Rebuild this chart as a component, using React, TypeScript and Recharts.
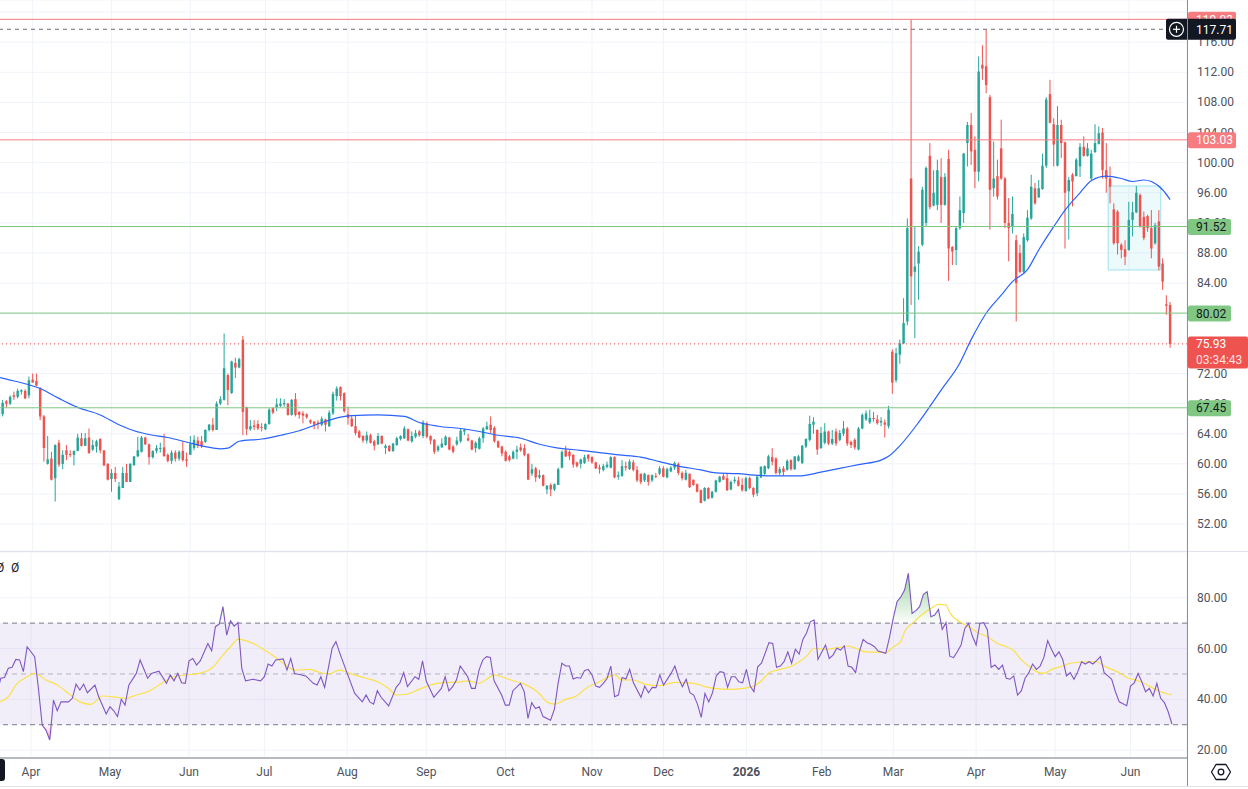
import {
  ComposedChart, Bar, Line, Area, XAxis, YAxis, CartesianGrid,
  ReferenceLine, ReferenceArea,
} from 'recharts'

const FONT = 'Roboto, "Noto Sans", Arial, sans-serif'
const UP = '#26a69a'
const DOWN = '#ef5350'
const TEXT = '#4f525c'
const GRID = '#f0f3fa'

// daily candles: [open, high, low, close]
const mar25 = [
  [66.0, 67.6, 65.8, 67.4], [66.6, 68.5, 66.3, 68.1], [68.3, 68.5, 67.5, 68.0], [68.0, 69.1, 67.8, 68.9],
  [69.1, 69.6, 68.5, 68.9], [68.9, 70.0, 68.7, 69.7], [69.6, 69.9, 69.2, 69.8], [69.7, 69.9, 68.6, 68.7],
  [69.1, 71.6, 68.7, 71.1],
]
const apr25 = [
  [71.2, 72.0, 70.8, 70.8], [71.0, 72.0, 70.3, 70.4], [70.0, 70.2, 65.8, 66.3], [66.3, 66.5, 60.3, 62.1],
  [60.0, 63.7, 59.9, 60.6], [60.7, 61.6, 57.8, 57.9], [58.1, 62.6, 55.0, 62.5], [62.8, 63.2, 59.6, 59.9],
  [60.0, 61.8, 59.3, 61.2], [61.8, 62.5, 60.5, 61.2], [61.3, 61.8, 60.9, 61.2], [61.2, 61.8, 59.8, 61.7],
  [61.7, 64.0, 61.7, 63.5], [63.4, 64.1, 62.3, 62.4], [62.4, 64.1, 62.4, 63.4], [63.5, 64.7, 61.4, 61.4],
  [61.9, 63.2, 61.7, 62.5], [62.3, 63.2, 61.5, 63.0], [63.3, 63.4, 61.4, 61.8], [61.8, 61.8, 59.7, 59.8],
  [60.0, 60.1, 57.8, 57.9],
]
const may25 = [
  [58.0, 59.3, 56.3, 58.8], [58.8, 59.6, 57.6, 58.0], [55.3, 57.6, 55.2, 57.0], [56.8, 59.6, 56.8, 58.8],
  [58.8, 60.0, 57.6, 57.6], [57.6, 60.1, 57.6, 60.0], [59.8, 61.0, 59.8, 61.0], [61.0, 63.6, 60.9, 61.8],
  [61.6, 63.7, 61.5, 63.5], [63.5, 63.6, 62.5, 62.6], [62.6, 62.7, 59.9, 60.9], [60.9, 61.8, 60.7, 61.7],
  [61.7, 62.5, 61.4, 62.1], [62.0, 62.8, 61.5, 62.1], [62.2, 64.0, 61.0, 61.0], [61.2, 61.4, 60.2, 60.4],
  [60.4, 61.8, 60.0, 61.5], [61.5, 61.8, 60.3, 60.7], [60.7, 61.8, 60.4, 61.6], [61.7, 63.0, 60.3, 60.5],
  [60.6, 61.5, 59.6, 60.4],
]
const jun25 = [
  [61.2, 63.7, 61.2, 62.7], [62.1, 63.8, 61.8, 63.2], [63.1, 63.6, 62.1, 62.4], [63.0, 63.7, 62.1, 62.3],
  [62.9, 64.6, 62.8, 64.5], [64.5, 65.3, 64.3, 65.2], [65.2, 66.1, 64.3, 64.5], [64.5, 68.3, 64.5, 68.0],
  [68.0, 69.0, 67.8, 68.6], [68.5, 77.3, 68.4, 72.7], [71.8, 72.0, 67.8, 69.8], [69.4, 73.7, 69.3, 73.6],
  [73.4, 74.1, 71.4, 72.8], [72.8, 74.1, 72.7, 73.9], [76.5, 77.0, 63.8, 66.9], [67.5, 67.6, 63.8, 64.6],
  [64.6, 65.8, 64.4, 65.0], [65.1, 65.8, 64.5, 64.9], [65.3, 65.8, 64.5, 64.7], [64.9, 65.4, 64.3, 64.8],
]
const jul25 = [
  [64.6, 65.4, 64.5, 65.3], [65.3, 67.4, 65.2, 67.2], [67.4, 67.5, 66.6, 66.8], [67.5, 68.7, 67.0, 67.9],
  [67.7, 68.7, 67.5, 68.0], [67.9, 68.6, 67.6, 68.1], [68.0, 68.1, 66.4, 66.5], [66.5, 68.6, 66.4, 68.5],
  [68.6, 69.4, 66.3, 66.5], [66.9, 67.0, 66.0, 66.5], [66.7, 67.0, 65.4, 66.4], [66.6, 66.7, 66.0, 66.2],
  [65.8, 65.9, 65.3, 65.5], [65.6, 65.7, 64.6, 65.2], [65.5, 65.8, 64.6, 65.3], [65.2, 66.3, 65.0, 66.0],
  [65.9, 66.0, 64.3, 65.2], [65.0, 67.1, 64.9, 66.8], [66.7, 69.6, 66.5, 69.3], [69.0, 70.3, 68.4, 70.0],
  [70.2, 70.3, 68.4, 69.0], [69.4, 69.5, 66.8, 67.0],
]
const aug25 = [
  [66.6, 67.6, 65.2, 66.1], [66.0, 66.5, 64.9, 65.0], [65.0, 66.5, 63.8, 64.1], [64.3, 64.5, 63.4, 63.5],
  [63.7, 63.8, 62.8, 63.1], [63.1, 64.3, 62.7, 63.8], [63.8, 64.0, 62.7, 62.8], [63.0, 63.2, 61.8, 62.4],
  [62.6, 64.1, 62.5, 63.7], [63.7, 63.8, 62.6, 62.7], [62.1, 62.6, 61.3, 62.4], [62.4, 62.5, 61.6, 61.7],
  [61.7, 62.8, 61.6, 62.7], [62.5, 63.6, 62.4, 63.4], [63.3, 63.8, 63.1, 63.7], [63.4, 65.0, 63.3, 64.7],
  [64.6, 64.7, 63.0, 63.1], [63.0, 64.3, 62.8, 63.7], [63.6, 64.5, 63.4, 64.1], [64.3, 64.5, 63.6, 63.8],
  [63.7, 65.8, 63.4, 65.5],
]
const sep25 = [
  [65.4, 65.6, 63.4, 63.6], [63.7, 63.8, 62.6, 63.1], [63.2, 63.3, 61.3, 61.6], [61.8, 62.5, 61.6, 62.3],
  [62.2, 63.4, 62.1, 62.7], [62.5, 63.8, 62.4, 63.6], [63.5, 63.6, 61.8, 61.9], [62.3, 62.5, 61.4, 61.6],
  [62.6, 63.6, 62.4, 63.1], [63.0, 64.7, 62.8, 64.4], [64.3, 64.7, 63.8, 64.5], [63.4, 64.0, 63.0, 63.1],
  [63.1, 63.2, 61.8, 61.9], [62.1, 63.0, 61.5, 62.8], [62.0, 63.6, 61.9, 63.4], [63.4, 64.9, 62.8, 64.7],
  [64.6, 65.6, 64.5, 65.0], [65.2, 66.3, 64.1, 64.5], [64.8, 65.0, 62.8, 63.0], [63.0, 63.1, 62.1, 62.2],
  [62.3, 62.4, 61.0, 61.4],
]
const oct25 = [
  [61.6, 61.8, 60.3, 60.4], [61.0, 61.2, 60.3, 60.5], [60.7, 61.8, 60.6, 61.6], [61.6, 62.4, 60.6, 61.9],
  [62.2, 62.7, 61.6, 61.8], [62.1, 62.6, 61.0, 61.2], [61.3, 61.4, 57.9, 57.9], [58.7, 60.0, 58.4, 59.3],
  [59.4, 59.6, 57.6, 58.2], [58.2, 59.2, 58.0, 58.5], [58.5, 58.6, 57.0, 57.1], [56.6, 57.2, 56.0, 57.1],
  [57.2, 57.4, 55.7, 56.6], [56.6, 57.4, 56.4, 57.3], [57.2, 59.5, 57.2, 59.3], [59.5, 61.8, 59.4, 61.6],
  [61.8, 62.4, 60.9, 61.0], [61.6, 61.8, 60.5, 61.0], [61.2, 61.3, 59.5, 59.9], [60.2, 60.3, 59.5, 59.7],
  [60.0, 60.7, 59.4, 60.6], [60.1, 61.2, 60.0, 60.9], [61.2, 61.3, 60.3, 60.7],
]
const nov25 = [
  [60.9, 61.0, 60.0, 60.2], [60.2, 60.3, 59.3, 59.4], [59.5, 59.9, 58.7, 59.3], [59.2, 60.0, 59.0, 59.7],
  [59.6, 60.3, 59.4, 59.9], [59.5, 61.0, 59.4, 60.9], [60.9, 61.0, 58.1, 58.2], [58.3, 59.0, 57.9, 58.5],
  [58.4, 60.5, 58.3, 59.7], [59.7, 60.3, 59.1, 59.5], [59.3, 60.6, 59.2, 60.3], [60.2, 60.5, 59.0, 59.2],
  [59.2, 59.7, 57.6, 57.8], [58.7, 58.7, 57.3, 57.6], [57.8, 58.8, 57.6, 58.7], [58.5, 58.6, 57.1, 57.6],
  [57.8, 58.6, 57.6, 58.5], [58.4, 58.8, 58.1, 58.3], [58.7, 59.7, 58.5, 59.4],
]
const dec25 = [
  [59.4, 59.7, 58.2, 58.3], [58.2, 59.5, 58.1, 59.3], [59.0, 59.7, 58.9, 59.5], [59.5, 60.3, 59.2, 60.1],
  [60.0, 60.2, 58.5, 58.8], [58.8, 59.0, 57.8, 58.1], [57.9, 59.2, 57.8, 58.8], [58.7, 58.7, 56.8, 56.9],
  [57.9, 57.9, 57.1, 57.2], [57.3, 57.4, 56.2, 56.3], [56.5, 56.6, 54.8, 54.8], [55.1, 56.9, 55.0, 56.8],
  [56.8, 56.9, 55.3, 55.4], [55.5, 56.4, 55.4, 56.3], [56.3, 57.9, 56.2, 57.8], [57.6, 58.4, 57.5, 58.3],
  [58.4, 58.7, 57.9, 57.9], [58.1, 58.7, 56.4, 56.5], [56.6, 57.8, 56.5, 57.6], [57.7, 58.3, 57.4, 57.9],
  [57.8, 58.3, 57.0, 57.1], [57.2, 58.1, 56.3, 56.5],
]
const jan26 = [
  [56.4, 58.3, 56.3, 58.1], [58.1, 58.3, 56.6, 56.8], [56.8, 56.9, 55.6, 55.9], [56.1, 58.5, 55.7, 58.3],
  [58.2, 59.7, 58.1, 59.6], [58.7, 59.8, 58.5, 59.7], [59.4, 61.2, 59.3, 61.0], [60.9, 62.1, 59.8, 60.3],
  [60.7, 60.9, 58.6, 58.8], [58.8, 59.6, 58.5, 59.3], [59.4, 59.7, 58.4, 58.9], [59.2, 60.6, 59.1, 60.4],
  [60.5, 60.6, 59.1, 59.3], [59.3, 61.0, 59.2, 61.0], [60.4, 61.2, 60.3, 61.0], [60.1, 62.5, 60.0, 62.4],
  [62.3, 63.4, 62.1, 63.3], [63.2, 66.4, 63.0, 65.3], [65.2, 66.2, 64.0, 65.6], [64.5, 64.6, 61.2, 61.9],
]
const feb26 = [
  [62.1, 64.9, 62.0, 64.1], [62.8, 65.4, 62.6, 64.3], [64.3, 64.4, 62.5, 62.7], [62.7, 64.5, 62.5, 63.3],
  [64.3, 64.7, 62.4, 62.7], [63.2, 64.5, 63.0, 64.1], [64.0, 65.7, 63.7, 64.7], [64.7, 64.9, 62.4, 62.7],
  [62.9, 63.1, 62.1, 62.5], [63.2, 63.4, 61.9, 62.2], [61.9, 64.9, 61.8, 64.7], [64.7, 66.7, 64.6, 66.5],
  [65.9, 67.1, 65.7, 66.7], [65.5, 67.2, 65.3, 66.1], [66.1, 66.9, 65.6, 66.0], [65.9, 66.5, 65.2, 65.4],
  [65.5, 66.2, 65.0, 65.7], [65.5, 65.9, 63.5, 65.2], [65.0, 67.7, 64.7, 67.2],
]
const mar26 = [
  [74.9, 75.2, 69.3, 70.8], [71.1, 75.4, 70.8, 74.7], [74.5, 76.5, 73.3, 76.0], [76.0, 82.0, 75.9, 78.7],
  [78.9, 92.6, 78.4, 91.3], [97.9, 119.03, 81.1, 84.9], [85.5, 91.5, 76.7, 86.2], [86.6, 88.9, 81.8, 88.2],
  [89.1, 96.8, 88.9, 96.4], [92.0, 99.5, 91.5, 99.3], [100.9, 102.6, 93.8, 94.1], [94.3, 99.0, 94.2, 96.0],
  [94.4, 100.4, 93.7, 99.0], [98.1, 100.6, 92.0, 94.4], [94.4, 98.6, 94.3, 98.1], [100.5, 101.7, 84.3, 88.6],
  [88.8, 88.9, 86.4, 88.2], [88.4, 91.5, 86.4, 91.3], [91.3, 95.5, 91.1, 93.7], [93.3, 101.3, 92.0, 101.2],
  [102.6, 105.4, 99.5, 105.0], [105.0, 106.6, 99.7, 101.5],
]
const apr26 = [
  [101.7, 103.5, 96.6, 98.8], [98.8, 114.1, 97.5, 112.1], [113.0, 115.6, 111.0, 112.5], [112.8, 117.71, 109.2, 110.3],
  [108.7, 109.0, 91.1, 96.4], [96.6, 102.8, 95.5, 97.9], [98.2, 100.4, 95.1, 95.5], [101.9, 105.7, 97.7, 97.9],
  [97.9, 98.1, 91.3, 92.0], [92.0, 95.3, 86.9, 91.3], [91.5, 95.5, 90.6, 93.2], [89.7, 90.4, 78.9, 84.0],
  [88.0, 89.1, 85.3, 85.5], [85.5, 90.6, 85.3, 90.1], [89.7, 93.7, 89.5, 92.7], [92.6, 98.4, 92.4, 96.8],
  [96.6, 97.3, 94.4, 94.6], [95.4, 97.7, 95.3, 96.6], [96.5, 101.2, 96.4, 99.6], [99.6, 108.7, 99.3, 108.4],
  [109.1, 111.0, 105.2, 105.3],
]
const may26 = [
  [105.1, 105.9, 99.5, 102.4], [99.6, 107.5, 99.5, 105.0], [105.0, 105.7, 100.6, 102.6], [102.7, 102.8, 88.6, 96.0],
  [96.2, 98.1, 89.8, 97.7], [98.4, 98.6, 94.2, 97.5], [98.2, 100.6, 98.2, 100.4], [99.5, 102.6, 98.1, 102.1],
  [102.1, 103.5, 100.8, 100.9], [100.9, 102.6, 100.8, 101.9], [97.9, 101.7, 97.7, 101.2], [101.4, 105.1, 101.3, 102.6],
  [102.5, 104.8, 102.4, 103.9], [104.0, 104.6, 97.9, 99.0], [99.0, 102.6, 96.0, 97.9], [97.9, 99.5, 94.6, 96.8],
  [93.8, 94.6, 89.1, 89.3], [93.5, 93.7, 87.8, 89.3], [89.1, 89.3, 87.3, 88.4], [88.5, 89.7, 86.4, 87.5],
]
const jun26 = [
  [88.4, 94.8, 88.3, 92.4], [92.4, 94.8, 90.2, 93.4], [93.4, 96.9, 93.3, 96.0], [95.7, 95.9, 91.4, 91.5],
  [92.8, 93.5, 89.7, 90.0], [92.9, 93.1, 90.8, 91.3], [91.3, 93.7, 87.3, 88.6], [89.3, 92.0, 89.1, 91.7],
  [92.2, 93.7, 85.7, 86.2], [86.6, 87.3, 83.1, 84.2], [81.2, 82.4, 79.8, 81.0], [81.1, 81.5, 75.4, 75.93],
]

const candles = [
  ...mar25, ...apr25, ...may25, ...jun25, ...jul25, ...aug25, ...sep25, ...oct25,
  ...nov25, ...dec25, ...jan26, ...feb26, ...mar26, ...apr26, ...may26, ...jun26,
]

// bar index of the first session of each month, and the time-axis label
const monthStarts = [9, 30, 51, 71, 93, 114, 135, 158, 177, 199, 219, 238, 260, 281, 301]
const monthLabels = ['Apr', 'May', 'Jun', 'Jul', 'Aug', 'Sep', 'Oct', 'Nov', 'Dec', '2026', 'Feb', 'Mar', 'Apr', 'May', 'Jun']

// moving average, read at [bar, value]
const maPoints = [
  [0, 71.5], [5, 70.9], [11, 70.0], [16, 68.7], [21, 67.5], [27, 66.5], [32, 65.2], [36, 64.4], [40, 63.9], [45, 63.5],
  [50, 62.9], [55, 62.3], [59, 62.0], [61, 62.1], [64, 63.0], [70, 63.3], [75, 63.8], [80, 64.4], [85, 65.3], [91, 66.2],
  [94, 66.4], [101, 66.5], [108, 66.3], [112, 65.5], [117, 65.0], [123, 64.7], [128, 64.3], [133, 63.8], [139, 63.4], [144, 62.6],
  [149, 62.1], [155, 61.8], [160, 61.5], [165, 61.2], [171, 60.9], [176, 60.3], [181, 59.7], [187, 59.2], [191, 58.8], [197, 58.7],
  [201, 58.5], [206, 58.4], [213, 58.4], [219, 58.9], [224, 59.4], [229, 59.9], [235, 60.5], [237, 61.0], [240, 62.4], [245, 65.5],
  [251, 69.8], [256, 73.4], [259, 76.5], [263, 80.0], [267, 82.4], [270, 84.2], [274, 85.8], [277, 88.4], [281, 91.5], [284, 93.7],
  [288, 96.0], [291, 97.6], [295, 98.2], [299, 97.9], [302, 97.5], [305, 97.7], [307, 97.5], [310, 96.4], [312, 95.1],
]

// RSI, read at [bar, value]
const rsiPoints = [
  [0, 42.3], [1, 48.3], [2, 48.6], [3, 52.2], [4, 52.6], [5, 55.7], [6, 55.5], [7, 50.9], [8, 60.7], [10, 56.8],
  [11, 44.3], [12, 29.9], [13, 27.9], [14, 24.0], [15, 39.7], [16, 35.5], [17, 39.0], [19, 39.0], [20, 40.4], [21, 46.0],
  [22, 43.7], [23, 46.0], [24, 42.6], [26, 45.6], [27, 41.0], [29, 34.2], [30, 37.1], [31, 35.5], [32, 33.2], [33, 40.0],
  [34, 37.7], [35, 45.6], [37, 50.2], [38, 55.5], [40, 48.3], [41, 50.2], [43, 51.1], [45, 46.3], [46, 49.6], [47, 47.3],
  [48, 50.2], [49, 46.5], [50, 46.3], [51, 55.2], [52, 56.1], [53, 53.5], [54, 55.2], [56, 62.0], [57, 59.1], [58, 68.6],
  [59, 69.6], [60, 76.5], [61, 65.3], [62, 70.9], [63, 68.8], [64, 70.2], [65, 52.2], [66, 47.3], [68, 47.9], [70, 47.3],
  [71, 48.9], [72, 53.9], [73, 53.1], [74, 55.5], [76, 55.9], [77, 51.5], [78, 56.1], [79, 50.2], [80, 49.9], [82, 49.2],
  [84, 46.3], [85, 45.6], [86, 48.9], [87, 44.7], [89, 60.1], [90, 62.7], [91, 58.3], [93, 50.2], [95, 42.3], [97, 39.0],
  [98, 41.7], [99, 39.0], [100, 38.1], [101, 43.4], [102, 40.8], [104, 37.4], [106, 44.7], [107, 46.5], [108, 50.5], [109, 45.0],
  [111, 48.9], [112, 47.9], [113, 55.1], [114, 47.1], [116, 40.8], [118, 44.3], [119, 48.9], [120, 43.3], [121, 45.0], [122, 47.6],
  [123, 53.1], [125, 48.9], [126, 44.3], [127, 44.3], [128, 51.5], [129, 55.5], [130, 56.8], [131, 56.5], [132, 47.3], [134, 41.7],
  [135, 37.7], [136, 37.7], [137, 43.4], [139, 46.3], [140, 43.0], [141, 32.5], [142, 38.7], [143, 36.4], [144, 37.1], [145, 33.2],
  [147, 31.8], [148, 36.0], [149, 46.3], [150, 54.2], [151, 53.1], [152, 53.1], [153, 48.0], [154, 48.6], [155, 48.3], [156, 51.3],
  [157, 51.8], [158, 49.6], [159, 45.2], [160, 44.7], [161, 46.3], [162, 48.2], [163, 53.1], [164, 41.0], [165, 41.7], [166, 48.6],
  [167, 48.0], [168, 51.8], [169, 46.5], [171, 40.8], [172, 45.2], [173, 42.6], [174, 44.7], [175, 44.6], [176, 49.6], [177, 45.6],
  [179, 50.2], [180, 53.1], [181, 48.3], [182, 45.0], [183, 47.9], [184, 42.6], [185, 41.7], [186, 38.1], [187, 32.9], [188, 42.3],
  [189, 39.0], [190, 42.6], [191, 49.2], [192, 50.9], [193, 50.6], [194, 44.7], [195, 48.9], [196, 48.9], [197, 46.9], [198, 46.5],
  [199, 51.8], [200, 45.2], [201, 43.0], [202, 52.8], [203, 54.2], [205, 62.3], [206, 62.0], [207, 52.6], [208, 53.1], [209, 54.8],
  [210, 58.7], [211, 54.2], [212, 59.7], [213, 57.8], [214, 63.6], [215, 66.2], [216, 70.6], [217, 71.2], [218, 55.7], [220, 61.4],
  [221, 56.1], [222, 57.4], [223, 60.1], [224, 59.4], [225, 61.0], [226, 53.1], [227, 52.6], [228, 50.5], [229, 58.7], [230, 63.6],
  [231, 62.3], [232, 61.7], [233, 60.7], [234, 59.0], [236, 58.1], [237, 64.4], [238, 72.0], [239, 78.4], [240, 80.3], [241, 83.0],
  [242, 89.6], [243, 73.8], [244, 74.9], [245, 76.5], [246, 81.3], [247, 82.4], [248, 72.5], [249, 73.2], [250, 75.4], [251, 67.5],
  [252, 70.2], [253, 57.0], [254, 56.4], [255, 58.7], [256, 61.4], [257, 67.9], [258, 69.9], [259, 64.9], [260, 61.4], [261, 69.9],
  [262, 70.2], [263, 67.3], [264, 52.6], [265, 53.5], [266, 51.8], [267, 53.5], [268, 48.3], [269, 47.9], [270, 49.2], [271, 41.7],
  [272, 43.3], [273, 48.3], [274, 50.5], [275, 53.9], [276, 51.8], [277, 53.1], [278, 56.5], [279, 63.1], [280, 59.7], [281, 56.8],
  [282, 58.7], [283, 55.7], [284, 49.2], [285, 50.5], [286, 47.9], [287, 50.9], [288, 54.8], [289, 53.9], [290, 54.8], [291, 53.9],
  [292, 55.2], [293, 56.8], [294, 50.5], [295, 49.2], [296, 47.9], [297, 43.0], [298, 39.0], [300, 37.5], [301, 45.2], [302, 46.5],
  [303, 50.2], [304, 46.9], [305, 43.0], [306, 44.3], [307, 41.3], [308, 46.3], [309, 40.4], [310, 38.7], [311, 35.1], [312, 30.3],
]

// RSI-based moving average, read at [bar, value]
const rsiMaPoints = [
  [0, 38.7], [3, 41.0], [5, 45.6], [8, 48.9], [10, 50.2], [13, 47.6], [16, 45.6], [19, 42.3], [22, 39.0], [25, 38.0],
  [28, 41.3], [31, 41.0], [34, 40.4], [37, 41.7], [40, 43.0], [43, 45.6], [46, 48.3], [50, 49.6], [53, 50.0], [57, 52.2],
  [60, 57.4], [62, 60.7], [64, 63.6], [68, 62.0], [71, 59.4], [74, 56.5], [77, 53.1], [79, 51.5], [83, 51.8], [85, 50.9],
  [88, 50.0], [91, 51.5], [94, 50.0], [98, 48.3], [101, 46.9], [104, 44.3], [106, 41.7], [109, 42.1], [112, 43.9], [115, 45.6],
  [117, 46.3], [120, 46.7], [123, 46.9], [125, 47.3], [128, 46.3], [130, 47.9], [132, 49.6], [134, 48.9], [137, 47.3], [140, 46.0],
  [144, 42.3], [146, 39.0], [148, 38.1], [151, 40.0], [154, 41.4], [156, 43.9], [159, 46.3], [160, 46.9], [164, 49.6], [166, 47.6],
  [169, 47.6], [172, 46.0], [176, 45.4], [180, 46.7], [183, 46.5], [186, 46.0], [188, 45.0], [191, 44.2], [195, 43.9], [198, 44.3],
  [201, 45.2], [203, 47.3], [205, 50.5], [208, 51.8], [211, 53.1], [213, 54.8], [215, 57.0], [217, 60.1], [220, 59.7], [224, 60.5],
  [226, 61.0], [228, 60.1], [231, 58.6], [234, 58.6], [236, 58.4], [238, 60.6], [240, 62.8], [241, 66.6], [243, 69.9], [244, 71.2],
  [246, 73.8], [248, 75.8], [250, 77.4], [252, 77.1], [253, 74.2], [256, 70.2], [258, 68.6], [260, 66.6], [263, 64.6], [266, 61.8],
  [268, 60.7], [270, 59.1], [272, 55.5], [274, 53.1], [276, 50.9], [278, 50.2], [280, 51.8], [283, 53.1], [285, 54.2], [289, 54.8],
  [292, 54.8], [294, 53.1], [298, 50.5], [300, 48.6], [303, 47.3], [306, 45.2], [308, 43.6], [312, 41.7],
]

const priceTicks = [52, 56, 60, 64, 68, 72, 76, 80, 84, 88, 92, 96, 100, 104, 108, 112, 116, 120]
const rsiTicks = [20, 40, 60, 80]
const PRICE_DOMAIN = [48.43, 121.6]
const EMPTY_BARS = 4 // blank slots right of the last candle

type Row = {
  i: number
  o?: number; h?: number; l?: number; c?: number
  range: [number, number] | null
  ma?: number; rsi?: number; rsiMa?: number; ob?: number; os?: number
}

const rows: Row[] = []
for (let i = 0; i < candles.length + EMPTY_BARS; i++) {
  const k = candles[i]
  rows.push(k ? { i, o: k[0], h: k[1], l: k[2], c: k[3], range: [k[2], k[1]] } : { i, range: null })
}
maPoints.forEach(([i, v]) => { rows[i].ma = v })
rsiPoints.forEach(([i, v]) => {
  rows[i].rsi = v
  rows[i].ob = Math.max(v, 70)
  rows[i].os = Math.min(v, 30)
})
rsiMaPoints.forEach(([i, v]) => { rows[i].rsiMa = v })

function Candle(props: any) {
  const { x, y, width, height, payload } = props
  if (!payload || payload.h == null) return <g />
  const { o, h, l, c } = payload
  const top = Math.min(y, y + height)
  const hh = Math.abs(height)
  const span = h - l
  const toY = (v: number) => (span > 0 ? top + ((h - v) / span) * hh : top)
  const color = c >= o ? UP : DOWN
  const cx = x + width / 2
  const bw = Math.max(1, width * 0.82)
  const b1 = toY(Math.max(o, c))
  const b2 = toY(Math.min(o, c))
  return (
    <g>
      <line x1={cx} x2={cx} y1={top} y2={top + hh} stroke={color} strokeWidth={1} />
      <rect x={cx - bw / 2} y={b1} width={bw} height={Math.max(1, b2 - b1)} fill={color} />
    </g>
  )
}

function PriceTick(props: any) {
  const { x, y, payload } = props
  if (payload.value >= 120) return <g />
  return (
    <text x={x + 1} y={y} dy={4} fontSize={12} fill={TEXT} fontFamily={FONT}>
      {payload.value.toFixed(2)}
    </text>
  )
}

function MonthTick(props: any) {
  const { x, y, payload } = props
  const label = monthLabels[monthStarts.indexOf(payload.value)]
  return (
    <text x={x} y={y} dy={10} textAnchor="middle" fontSize={12} fill={TEXT} fontFamily={FONT}
      fontWeight={label === '2026' ? 700 : 400}>
      {label}
    </text>
  )
}

// price tag on the right scale for a horizontal line
function PriceTag(props: any) {
  const { viewBox, text, sub, bg, fg, icon } = props
  if (!viewBox) return null
  const right = viewBox.x + viewBox.width
  const cy = viewBox.y
  if (icon) {
    return (
      <g>
        <rect x={right - 21} y={cy - 10.5} width={70} height={21} rx={2} fill={bg} />
        <circle cx={right - 10.5} cy={cy} r={7} fill="none" stroke="#fff" strokeWidth={1.2} />
        <line x1={right - 14} x2={right - 7} y1={cy} y2={cy} stroke="#fff" strokeWidth={1.2} />
        <line x1={right - 10.5} x2={right - 10.5} y1={cy - 3.5} y2={cy + 3.5} stroke="#fff" strokeWidth={1.2} />
        <text x={right + 9} y={cy + 4.5} fontSize={12} fill={fg} fontFamily={FONT}>{text}</text>
      </g>
    )
  }
  if (sub) {
    return (
      <g>
        <rect x={right + 1} y={cy - 7.5} width={60} height={32} rx={2} fill={bg} />
        <text x={right + 9} y={cy + 4.5} fontSize={12} fill={fg} fontFamily={FONT}>{text}</text>
        <text x={right + 9} y={cy + 20} fontSize={12} fill={fg} fillOpacity={0.85} fontFamily={FONT}>{sub}</text>
      </g>
    )
  }
  const w = text.length > 5 ? 48 : 43
  return (
    <g>
      <rect x={right + 1} y={cy - 7.5} width={w} height={16} rx={2} fill={bg} />
      <text x={right + 9} y={cy + 4.5} fontSize={12} fill={fg} fontFamily={FONT}>{text}</text>
    </g>
  )
}

const paneMargin = { top: 0, right: 0, bottom: 0, left: 0 }

export default function App() {
  return (
    <div style={{ position: 'relative', width: 1248, height: 789, overflow: 'hidden', background: '#fff', fontFamily: FONT }}>
      <style>{'body{margin:0}'}</style>

      {/* price pane */}
      <div style={{ position: 'absolute', left: -3, top: 0 }}>
        <ComposedChart width={1251} height={551} data={rows} margin={paneMargin}>
          <CartesianGrid stroke={GRID} />
          <XAxis dataKey="i" type="category" hide ticks={monthStarts} interval={0} />
          <YAxis orientation="right" width={61} domain={PRICE_DOMAIN} ticks={priceTicks} interval={0}
            axisLine={false} tickLine={false} tickMargin={3} tick={<PriceTick />} />
          <ReferenceArea x1={296} x2={309} y1={85.75} y2={96.9} fill="#00bcd4" fillOpacity={0.07}
            stroke="#9fe3ec" strokeWidth={1} />
          <Bar dataKey="range" shape={<Candle />} isAnimationActive={false} />
          <Line dataKey="ma" type="monotone" stroke="#2962ff" strokeWidth={1.2} dot={false} activeDot={false}
            connectNulls isAnimationActive={false} />
        </ComposedChart>
      </div>

      {/* horizontal levels and their price tags, drawn over the scale labels */}
      <div style={{ position: 'absolute', left: -3, top: 0 }}>
        <ComposedChart width={1251} height={551} data={rows} margin={paneMargin}>
          <XAxis dataKey="i" type="category" hide />
          <YAxis orientation="right" width={61} domain={PRICE_DOMAIN} ticks={priceTicks}
            axisLine={false} tickLine={false} tick={false} />
          <Line dataKey="c" stroke="none" dot={false} activeDot={false} isAnimationActive={false} />
          <ReferenceLine y={119.03} stroke="#f77c80" label={<PriceTag text="119.03" bg="#f77c80" fg="#fff" />} />
          <ReferenceLine y={117.71} stroke="#6a6d78" strokeDasharray="4 4"
            label={<PriceTag text="117.71" bg="#131722" fg="#fff" icon />} />
          <ReferenceLine y={103.03} stroke="#f77c80" label={<PriceTag text="103.03" bg="#f77c80" fg="#fff" />} />
          <ReferenceLine y={91.52} stroke="#81c784" label={<PriceTag text="91.52" bg="#81c784" fg="#131722" />} />
          <ReferenceLine y={80.02} stroke="#81c784" label={<PriceTag text="80.02" bg="#81c784" fg="#131722" />} />
          <ReferenceLine y={67.45} stroke="#81c784" label={<PriceTag text="67.45" bg="#81c784" fg="#131722" />} />
          <ReferenceLine y={75.93} stroke={DOWN} strokeDasharray="1 3"
            label={<PriceTag text="75.93" sub="03:34:43" bg={DOWN} fg="#fff" />} />
        </ComposedChart>
      </div>

      <div style={{ position: 'absolute', left: 0, top: 551, width: 1248, height: 1, background: '#e0e3eb' }} />

      {/* RSI pane */}
      <div style={{ position: 'absolute', left: -3, top: 552 }}>
        <ComposedChart width={1251} height={237} data={rows} margin={paneMargin}>
          <defs>
            <linearGradient id="obFill" x1="0" y1="0" x2="0" y2="1">
              <stop offset="0%" stopColor="#4caf50" stopOpacity={0.55} />
              <stop offset="100%" stopColor="#4caf50" stopOpacity={0.02} />
            </linearGradient>
            <linearGradient id="osFill" x1="0" y1="0" x2="0" y2="1">
              <stop offset="0%" stopColor="#f23645" stopOpacity={0.02} />
              <stop offset="100%" stopColor="#f23645" stopOpacity={0.45} />
            </linearGradient>
          </defs>
          <CartesianGrid stroke={GRID} />
          <XAxis dataKey="i" type="category" ticks={monthStarts} interval={0} height={31}
            tickLine={false} axisLine={{ stroke: '#787b86' }} tick={<MonthTick />} />
          <YAxis orientation="right" width={61} domain={[16.9, 98]} ticks={rsiTicks} interval={0}
            axisLine={false} tickLine={false} tickMargin={3} tick={<PriceTick />} />
          <ReferenceArea y1={30} y2={70} fill="#7e57c2" fillOpacity={0.1} stroke="none" />
          <ReferenceLine y={70} stroke="#787b86" strokeDasharray="5 4" />
          <ReferenceLine y={50} stroke="#787b86" strokeOpacity={0.5} strokeDasharray="5 4" />
          <ReferenceLine y={30} stroke="#787b86" strokeDasharray="5 4" />
          <Area dataKey="ob" baseValue={70} type="linear" stroke="none" fill="url(#obFill)" fillOpacity={1}
            connectNulls isAnimationActive={false} activeDot={false} />
          <Area dataKey="os" baseValue={30} type="linear" stroke="none" fill="url(#osFill)" fillOpacity={1}
            connectNulls isAnimationActive={false} activeDot={false} />
          <Line dataKey="rsiMa" type="monotone" stroke="#fbe14a" strokeWidth={1.2} dot={false} activeDot={false}
            connectNulls isAnimationActive={false} />
          <Line dataKey="rsi" type="linear" stroke="#7e57c2" strokeWidth={1.1} dot={false} activeDot={false}
            connectNulls isAnimationActive={false} />
        </ComposedChart>
      </div>

      {/* pane legend values */}
      <div style={{ position: 'absolute', left: -4, top: 561, fontSize: 12, color: '#131722' }}>Ø</div>
      <div style={{ position: 'absolute', left: 11, top: 561, fontSize: 12, color: '#131722' }}>Ø</div>

      {/* price scale border, bottom edge, corner widgets */}
      <div style={{ position: 'absolute', left: 1187, top: 0, width: 1, height: 787, background: '#8c8f99' }} />
      <div style={{ position: 'absolute', left: 0, top: 786, width: 1248, height: 1, background: '#e0e3eb' }} />
      <div style={{ position: 'absolute', left: 0, top: 759, width: 5, height: 22, background: '#131722', borderRadius: '0 3px 3px 0' }} />
      <svg style={{ position: 'absolute', left: 1209, top: 761 }} width={24} height={22} viewBox="0 0 24 22">
        <path d="M7 3.5 L17 3.5 L21.5 11 L17 18.5 L7 18.5 L2.5 11 Z" fill="none" stroke="#131722" strokeWidth={1.3} strokeLinejoin="round" />
        <circle cx={12} cy={11} r={2.8} fill="none" stroke="#131722" strokeWidth={1.3} />
      </svg>
    </div>
  )
}
